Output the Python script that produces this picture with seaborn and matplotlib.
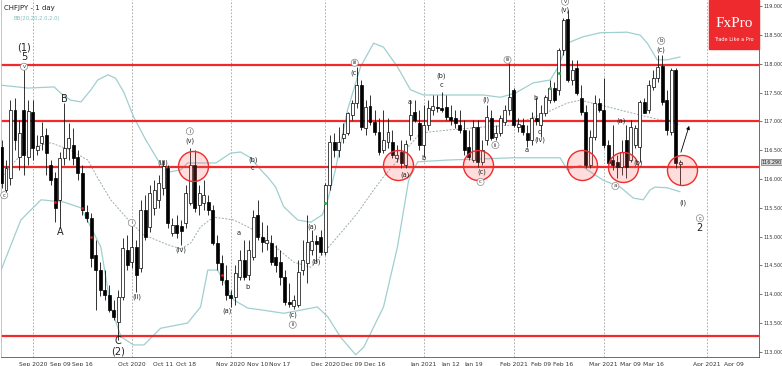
import matplotlib
matplotlib.use("Agg")
import matplotlib.pyplot as plt
from matplotlib.patches import Rectangle
import seaborn as sns

# CHFJPY daily candles, bar index 0 = 1 Sep 2020
first_bar = -7
opens = [116.56, 115.81, 116.02, 117.20, 116.38, 117.20, 116.38, 117.16, 116.50, 116.63,
         116.77, 116.24, 116.02, 115.64, 116.37, 116.54, 116.59, 116.38, 116.11, 115.43,
         115.32, 114.68, 114.42, 114.07, 113.99, 113.73, 113.52, 113.95, 114.77, 114.56,
         114.82, 114.46, 115.46, 115.17, 115.50, 115.64, 115.85, 116.19, 115.06, 115.20,
         115.19, 115.24, 115.59, 116.24, 115.55, 115.59, 115.60, 115.46, 114.89, 114.54,
         114.25, 113.99, 113.95, 114.30, 114.60, 114.33, 114.65, 115.38, 114.99, 114.89,
         114.89, 114.65, 114.56, 114.30, 113.87, 113.80, 113.81, 114.42, 114.54, 114.77,
         114.92, 114.99, 114.73, 115.90, 116.64, 116.50, 116.71, 116.80, 117.11, 117.32,
         117.63, 116.89, 117.27, 116.99, 116.82, 116.50, 116.64, 116.64, 116.37, 116.47,
         116.24, 116.77, 117.16, 116.97, 116.59, 116.94, 117.20, 117.25, 117.23, 117.25,
         117.08, 117.06, 116.94, 116.85, 116.56, 116.33, 116.90, 116.30, 116.68, 117.06,
         116.73, 116.80, 116.99, 117.20, 117.55, 116.90, 116.94, 116.80, 116.68, 117.06,
         116.94, 117.15, 117.37, 117.58, 117.55, 118.24, 118.78, 117.72, 117.93, 117.41,
         117.16, 116.24, 116.73, 117.32, 117.20, 116.59, 116.33, 116.30, 116.21, 116.68,
         116.33, 116.59, 116.56, 117.34, 117.20, 117.60, 117.75, 117.96, 117.37, 116.82,
         117.89, 116.27]
highs = [116.68, 116.33, 117.37, 117.41, 117.03, 118.02, 117.37, 117.37, 116.77, 116.99,
         116.89, 116.33, 116.12, 116.47, 117.32, 116.97, 116.89, 116.50, 116.24, 115.55,
         115.41, 114.94, 114.56, 114.42, 114.16, 113.90, 114.07, 114.98, 115.03, 115.20,
         114.94, 115.64, 115.72, 115.90, 115.98, 116.07, 116.33, 116.24, 115.32, 115.38,
         115.29, 115.90, 116.54, 116.50, 115.90, 115.98, 115.72, 115.55, 115.03, 114.68,
         114.51, 114.07, 114.51, 114.77, 114.94, 114.94, 115.46, 115.64, 115.25, 115.20,
         115.03, 114.86, 114.77, 114.42, 114.20, 113.99, 114.60, 114.94, 115.38, 115.12,
         115.03, 115.12, 115.93, 116.77, 116.80, 116.90, 116.97, 117.16, 117.37, 117.95,
         117.72, 117.37, 117.46, 117.20, 117.06, 117.20, 117.06, 116.85, 116.59, 116.68,
         116.68, 117.37, 117.37, 117.20, 117.29, 117.37, 117.46, 117.46, 117.51, 117.46,
         117.29, 117.20, 117.20, 117.03, 116.85, 117.03, 117.03, 116.68, 117.29, 117.20,
         116.94, 117.11, 117.29, 118.02, 117.58, 117.06, 117.06, 116.94, 117.16, 117.42,
         117.29, 117.46, 117.72, 117.69, 118.28, 118.80, 118.94, 118.07, 118.07, 117.63,
         117.29, 116.85, 117.46, 117.41, 117.75, 116.68, 116.94, 116.42, 116.68, 116.94,
         117.03, 116.94, 117.37, 117.41, 117.72, 117.89, 118.15, 118.15, 117.55, 117.93,
         117.93, 116.33]
lows = [115.85, 115.72, 115.90, 116.50, 116.16, 116.07, 116.24, 116.33, 116.42, 116.50,
        116.07, 115.90, 115.25, 115.15, 116.24, 116.33, 116.24, 115.98, 115.38, 115.25,
        114.47, 113.73, 113.97, 113.90, 113.69, 113.55, 113.21, 113.90, 114.42, 114.46,
        114.04, 114.39, 114.94, 115.08, 115.38, 115.50, 115.72, 115.15, 115.01, 114.98,
        114.86, 115.15, 115.55, 115.43, 115.38, 115.46, 115.38, 114.86, 114.42, 114.16,
        113.90, 113.78, 113.81, 114.25, 114.25, 114.25, 114.60, 114.94, 114.73, 114.77,
        114.51, 114.39, 114.16, 113.81, 113.78, 113.74, 113.78, 114.33, 114.20, 114.68,
        114.56, 114.68, 114.68, 115.81, 116.38, 116.38, 116.63, 116.77, 117.03, 117.23,
        116.85, 116.77, 116.94, 116.77, 116.42, 116.45, 116.54, 116.37, 116.30, 116.19,
        116.19, 116.68, 116.99, 116.50, 116.38, 116.85, 117.11, 117.16, 117.16, 117.03,
        116.94, 116.89, 116.80, 116.42, 116.33, 116.30, 116.21, 116.24, 116.59, 116.68,
        116.68, 116.75, 116.94, 117.11, 116.90, 116.82, 116.77, 116.56, 116.59, 116.94,
        116.73, 117.10, 117.32, 117.34, 117.46, 118.15, 117.69, 117.63, 117.46, 117.11,
        116.19, 116.19, 116.68, 117.16, 116.54, 116.24, 116.16, 116.02, 116.07, 116.02,
        116.30, 116.54, 116.30, 117.14, 117.15, 117.55, 117.69, 117.29, 116.77, 116.77,
        116.19, 115.90]
closes = [115.93, 116.19, 117.20, 116.68, 116.80, 116.42, 117.18, 116.54, 116.57, 116.75,
          116.45, 115.98, 115.50, 116.37, 116.54, 116.71, 116.37, 116.11, 115.46, 115.32,
          114.63, 114.42, 114.07, 113.99, 113.73, 113.61, 113.95, 114.80, 114.51, 114.82,
          114.33, 115.46, 114.99, 115.76, 115.81, 115.93, 116.23, 115.24, 115.20, 115.06,
          115.10, 115.76, 116.24, 115.50, 115.76, 115.72, 115.46, 114.89, 114.54, 114.25,
          113.99, 113.93, 114.37, 114.60, 114.30, 114.77, 115.34, 114.99, 114.91, 114.94,
          114.56, 114.51, 114.30, 113.87, 113.83, 113.90, 114.39, 114.60, 114.91, 114.92,
          114.87, 114.73, 115.90, 116.64, 116.50, 116.64, 116.78, 117.15, 117.32, 117.63,
          116.90, 117.25, 116.99, 116.82, 116.47, 116.68, 116.82, 116.42, 116.42, 116.28,
          116.61, 117.11, 117.03, 116.59, 116.94, 117.23, 117.27, 117.23, 117.20, 117.08,
          117.03, 116.97, 116.85, 116.50, 116.38, 116.90, 116.30, 116.50, 117.08, 116.71,
          116.80, 117.06, 117.20, 117.42, 116.94, 116.96, 116.82, 116.68, 117.06, 117.01,
          117.15, 117.42, 117.58, 117.37, 118.24, 118.76, 117.72, 117.89, 117.49, 117.16,
          116.24, 116.73, 117.32, 117.20, 116.59, 116.28, 116.24, 116.21, 116.47, 116.21,
          116.90, 116.89, 117.34, 117.15, 117.63, 117.75, 117.95, 117.34, 116.85, 117.89,
          116.28, 116.29]

# Bollinger bands (20, 2)
bb_upper_x = [-7.1, -1.1, 4.7, 6.2, 8.4, 10.7, 12.9, 14.4, 16.7, 18.4, 20.2, 22.4, 25.1, 27.8,
              30.0, 32.9, 34.4, 37.3, 40.7, 44.0, 46.2, 48.4, 50.7, 52.4, 54.0, 55.8, 58.9,
              61.8, 64.4, 65.6, 67.3, 70.0, 72.9, 75.8, 78.0, 81.1, 84.0, 86.9, 92.9, 100.2,
              104.0, 107.3, 111.3, 115.1, 116.9, 118.9, 122.4, 126.2, 132.2, 135.1, 136.7,
              138.9, 141.1, 144.0]
bb_upper = [117.63, 117.58, 117.60, 117.49, 117.37, 117.34, 117.55, 117.72, 117.81, 117.75,
            117.51, 117.08, 116.68, 116.33, 116.12, 116.16, 116.28, 116.28, 116.28, 116.45,
            116.47, 116.37, 116.16, 116.02, 115.86, 115.52, 115.29, 115.25, 115.38, 115.64,
            116.16, 117.20, 117.95, 118.36, 118.29, 117.95, 117.55, 117.46, 117.46, 117.46,
            117.42, 117.49, 117.67, 117.72, 117.95, 118.36, 118.47, 118.54, 118.55, 118.50,
            118.36, 118.07, 118.07, 118.12]
bb_mid_x = [-7.1, -3.8, 0.2, 4.0, 8.4, 12.2, 14.4, 17.3, 21.8, 24.7, 30.0, 32.9, 35.1, 37.3,
            40.2, 44.7, 49.1, 52.9, 58.0, 61.8, 64.7, 69.1, 72.2, 75.8, 78.0, 81.8, 83.3,
            86.2, 92.2, 99.6, 106.9, 114.4, 118.9, 121.8, 129.1, 135.1, 139.6, 144.0]
bb_mid = [116.02, 116.33, 116.56, 116.63, 116.50, 116.33, 116.02, 115.64, 115.24, 115.03,
          114.86, 114.79, 114.89, 115.17, 115.34, 115.29, 115.12, 114.89, 114.56, 114.47,
          114.72, 115.12, 115.41, 115.81, 116.04, 116.38, 116.54, 116.80, 116.85, 116.90,
          116.94, 117.16, 117.32, 117.37, 117.23, 117.11, 117.03, 116.94]
bb_lower_x = [-7.1, -2.7, 1.8, 6.9, 10.7, 15.1, 17.3, 19.6, 22.4, 24.7, 28.4, 34.4, 37.3,
              38.9, 41.1, 44.7, 47.8, 50.7, 55.8, 63.3, 65.6, 68.4, 71.8, 73.6, 78.0, 81.1,
              83.6, 85.6, 92.2, 106.9, 117.3, 118.9, 121.8, 126.9, 130.7, 133.6, 135.8,
              137.3, 138.4, 141.1, 144.0]
bb_lower = [114.42, 115.29, 115.64, 115.60, 115.50, 114.82, 113.78, 113.26, 113.12, 113.12,
            113.41, 113.50, 113.78, 114.42, 114.42, 113.90, 113.76, 113.73, 113.67, 113.78,
            113.61, 113.26, 112.95, 113.08, 113.78, 114.82, 115.98, 116.30, 116.33, 116.37,
            116.37, 116.16, 116.24, 115.98, 115.86, 115.67, 115.64, 115.81, 115.86, 115.85,
            115.78]

# support / resistance levels and highlighted touches
levels = [117.98, 117.01, 116.21, 113.27]
touch_x = [35.6, 81.3, 99.1, 122.2, 131.3, 144.4]
touch_y = [116.23, 116.24, 116.24, 116.24, 116.21, 116.16]
last_price = 116.29

tick_pos = [0, 6, 11, 22, 29, 34, 44, 50, 55, 65, 71, 76, 87, 93, 98, 107, 113, 118, 127,
            133, 138, 150, 156]
tick_labels = ["Sep 2020", "Sep 09", "Sep 16", "Oct 2020", "Oct 11", "Oct 18", "Nov 2020",
               "Nov 10", "Nov 17", "Dec 2020", "Dec 09", "Dec 16", "Jan 2021", "Jan 12",
               "Jan 19", "Feb 2021", "Feb 09", "Feb 16", "Mar 2021", "Mar 09", "Mar 16",
               "Apr 2021", "Apr 09"]
month_pos = [0, 22, 44, 65, 87, 107, 127, 150]

# wave labels: (x, y, text, kind)  kind: big / plain / circ
wave_labels = [
    (-2.0, 118.28, "(1)", "big"), (-2.0, 118.12, "5", "big"), (-2.0, 117.95, "v", "circ"),
    (6.9, 117.39, "B", "big"), (6.0, 115.08, "A", "big"), (18.9, 113.19, "C", "big"),
    (18.9, 113.00, "(2)", "big"), (-6.4, 115.72, "c", "circ"),
    (22.0, 115.24, "i", "circ"), (23.1, 113.95, "(ii)", "plain"), (28.9, 116.28, "(iii)", "plain"),
    (32.9, 114.77, "(iv)", "plain"), (34.9, 116.83, "i", "circ"), (34.9, 116.66, "(v)", "plain"),
    (48.9, 116.33, "(b)", "plain"), (48.9, 116.19, "c", "plain"), (45.8, 115.06, "a", "plain"),
    (47.8, 114.13, "b", "plain"), (43.3, 113.71, "(a)", "plain"), (62.0, 115.17, "(a)", "plain"),
    (62.9, 114.56, "(b)", "plain"), (57.8, 113.64, "(c)", "plain"), (57.8, 113.47, "ii", "circ"),
    (71.6, 118.02, "iii", "circ"), (71.6, 117.84, "(c)", "plain"), (83.8, 117.34, "a", "plain"),
    (86.9, 116.37, "b", "plain"), (82.7, 116.07, "(a)", "plain"), (90.9, 117.79, "(b)", "plain"),
    (90.9, 117.63, "c", "plain"), (99.8, 116.12, "(c)", "plain"), (99.6, 115.95, "c", "circ"),
    (100.7, 117.37, "(i)", "plain"), (102.9, 116.59, "ii", "circ"), (105.6, 118.07, "iii", "circ"),
    (118.4, 119.08, "v", "circ"), (118.4, 118.94, "(v)", "plain"), (111.8, 117.41, "b", "plain"),
    (112.7, 116.82, "c", "plain"), (112.9, 116.68, "(iv)", "plain"), (109.8, 116.50, "a", "plain"),
    (130.9, 117.01, "(a)", "plain"), (134.7, 116.28, "(b)", "plain"), (139.8, 118.40, "b", "circ"),
    (139.8, 118.24, "(c)", "plain"), (129.6, 115.88, "a", "circ"), (144.7, 115.59, "(i)", "plain"),
    (148.4, 115.32, "c", "circ"), (148.4, 115.15, "2", "big"),
]

green_dots_x = [65, 115, 117]
green_dots_y = [115.59, 117.58, 117.84]
red_dots_x = [5, 11, 13, 42]
red_dots_y = [115.60, 115.50, 114.99, 114.33]

sns.set_style("white")
fig = plt.figure(figsize=(7.82, 3.66), dpi=100)
ax = fig.add_axes([0.0013, 0.0246, 0.9693, 0.9754])

bars = list(range(first_bar, first_bar + len(opens)))

# month separators
for m in month_pos:
    ax.axvline(m, color="#a0a0a0", lw=0.6, ls=(0, (2, 2)), zorder=0)

# Bollinger bands
band_col = "#9fcfd0"
sns.lineplot(x=bb_upper_x, y=bb_upper, ax=ax, color=band_col, lw=0.9, sort=False, zorder=1)
sns.lineplot(x=bb_lower_x, y=bb_lower, ax=ax, color=band_col, lw=0.9, sort=False, zorder=1)
sns.lineplot(x=bb_mid_x, y=bb_mid, ax=ax, color="#9aacac", lw=0.7, sort=False, zorder=1,
             linestyle=(0, (2, 1.5)))

# horizontal levels
for lv in levels:
    ax.axhline(lv, color="#f02a2a", lw=1.6, zorder=2)

# candles
ax.vlines(bars, lows, highs, color="#111111", lw=0.6, zorder=3)
for x, o, c in zip(bars, opens, closes):
    bottom = min(o, c)
    height = max(abs(c - o), 0.012)
    fc = "white" if c >= o else "black"
    ax.bar(x, height, bottom=bottom, width=0.66, color=fc, edgecolor="black",
           linewidth=0.5, zorder=4)

ax.scatter(green_dots_x, green_dots_y, s=5, color="#2bb34a", zorder=5, linewidths=0)
ax.scatter(red_dots_x, red_dots_y, s=4, color="#e02020", zorder=5, linewidths=0)

# touch circles
ax.scatter(touch_x, touch_y, s=467, facecolors=(1.0, 0.35, 0.35, 0.2),
           edgecolors="#ee2c2c", linewidths=1.0, zorder=6)

# projected move
ax.annotate("", xy=(146.2, 116.97), xytext=(144.0, 116.42),
            arrowprops=dict(arrowstyle="-|>", color="black", lw=0.6, mutation_scale=5),
            zorder=7)

# wave labels
for x, y, t, kind in wave_labels:
    if kind == "big":
        ax.text(x, y, t, fontsize=7, ha="center", va="center", color="#222222", zorder=8)
    elif kind == "circ":
        ax.text(x, y, t, fontsize=3.8, ha="center", va="center", color="#333333", zorder=8,
                bbox=dict(boxstyle="circle,pad=0.2", fc="white", ec="#888888", lw=0.5))
    else:
        ax.text(x, y, t, fontsize=4.8, ha="center", va="center", color="#222222", zorder=8)

ax.set_xlim(-7.11, 161.56)
ax.set_ylim(112.911, 119.109)

ax.yaxis.tick_right()
ax.set_yticks([113.0 + 0.5 * k for k in range(13)])
ax.set_yticklabels([f"{113.0 + 0.5 * k:.3f}" for k in range(13)])
ax.set_xticks(tick_pos)
ax.set_xticklabels(tick_labels)
ax.tick_params(axis="x", labelsize=4.3, length=2, width=0.5, color="#444444",
               labelcolor="#333333", pad=1.5)
ax.tick_params(axis="y", labelsize=3.5, length=2, width=0.5, color="#444444",
               labelcolor="#333333", pad=1)

ax.spines["top"].set_visible(False)
ax.spines["left"].set_color("#bbbbbb")
ax.spines["right"].set_color("#555555")
ax.spines["bottom"].set_color("#555555")
for s in ax.spines.values():
    s.set_linewidth(0.6)

# last price tag
ax.text(1.003, last_price, f"{last_price:.3f}", transform=ax.get_yaxis_transform(),
        fontsize=3.5, va="center", ha="left", color="#222222", zorder=9, clip_on=False,
        bbox=dict(boxstyle="square,pad=0.12", fc="#d4d4d4", ec="#555555", lw=0.4))

# header
ax.text(0.004, 0.985, "CHFJPY - 1 day", transform=ax.transAxes, fontsize=5, va="top",
        color="#222222")
ax.text(0.017, 0.955, "BB(20,20,2.0,2.0)", transform=ax.transAxes, fontsize=3.8, va="top",
        color="#7fbfc0")

# logo
fig.patches.append(Rectangle((0.9066, 0.866), 0.0639, 0.134, transform=fig.transFigure,
                             color="#ee2a2e", zorder=10))
fig.text(0.9385, 0.935, "FxPro", color="white", fontsize=11, ha="center", va="center",
         family=["Liberation Serif", "DejaVu Serif"], zorder=11)
fig.text(0.9385, 0.893, "Trade Like a Pro", color="white", fontsize=3.6, ha="center",
         va="center", zorder=11)

fig.savefig("out.png", dpi=100)
